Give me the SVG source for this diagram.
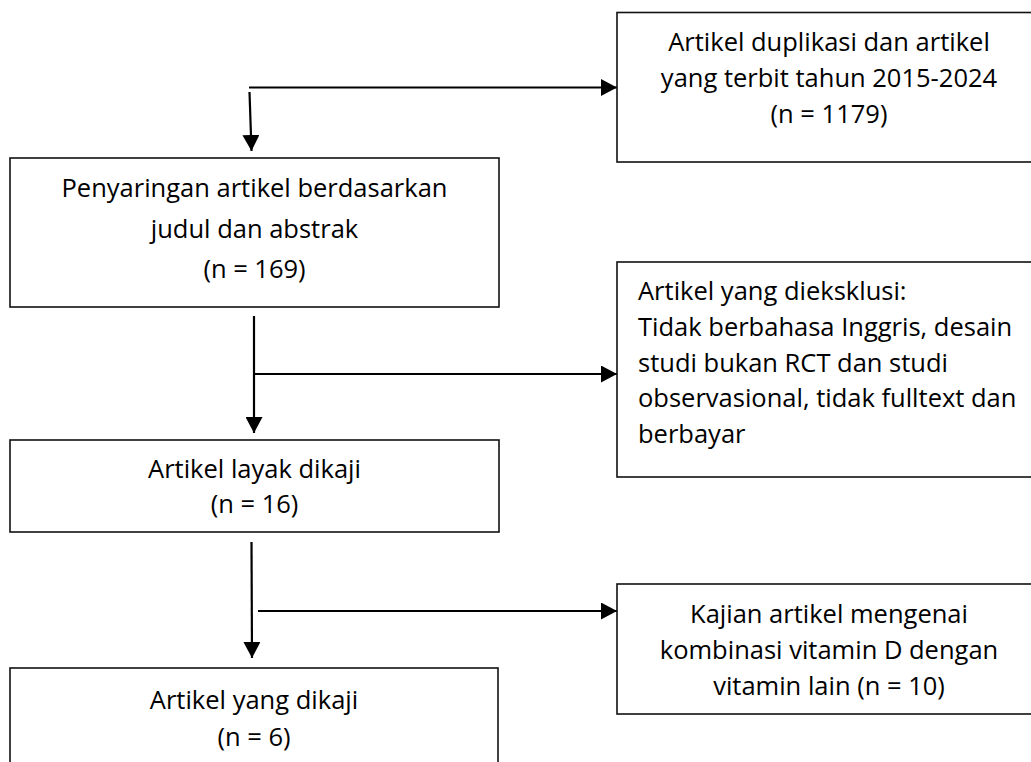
<svg xmlns="http://www.w3.org/2000/svg" width="1031" height="762" viewBox="0 0 1031 762">
<style>
  .box { fill: #fff; stroke: #111; stroke-width: 1.6; }
  .t { font-family: "Open Sans", "Noto Sans", sans-serif; font-size: 25.5px; fill: #000; }
  .c { text-anchor: middle; }
  .conn { stroke: #000; stroke-width: 2.2; fill: none; }
</style>
<defs>
  <marker id="arr" markerUnits="userSpaceOnUse" markerWidth="16" markerHeight="17" viewBox="0 0 16 17" refX="16" refY="8.5" orient="auto">
    <path d="M0,0 L16,8.5 L0,17 z" fill="#000"/>
  </marker>
</defs>
<rect width="1031" height="762" fill="#fff"/>
<g id="connectors">
  <line class="conn" x1="249" y1="87.5" x2="617" y2="87.5" marker-end="url(#arr)"/>
  <line class="conn" x1="249.5" y1="92" x2="251.5" y2="151" marker-end="url(#arr)"/>
  <line class="conn" x1="254" y1="316" x2="254" y2="433" marker-end="url(#arr)"/>
  <line class="conn" x1="253" y1="374" x2="617" y2="374" marker-end="url(#arr)"/>
  <line class="conn" x1="251.5" y1="542" x2="252" y2="658" marker-end="url(#arr)"/>
  <line class="conn" x1="258" y1="611" x2="617" y2="611" marker-end="url(#arr)"/>
</g>
<g id="node-duplikasi">
  <rect class="box" x="617" y="12.5" width="430" height="149.5"/>
  <text class="t c" x="829" y="51">Artikel duplikasi dan artikel</text>
  <text class="t c" x="829" y="87">yang terbit tahun 2015-2024</text>
  <text class="t c" x="829" y="123">(n = 1179)</text>
</g>
<g id="node-penyaringan">
  <rect class="box" x="10" y="158" width="489" height="149"/>
  <text class="t c" x="254.5" y="197">Penyaringan artikel berdasarkan</text>
  <text class="t c" x="254.5" y="238">judul dan abstrak</text>
  <text class="t c" x="254.5" y="278">(n = 169)</text>
</g>
<g id="node-eksklusi">
  <rect class="box" x="617" y="262" width="430" height="215"/>
  <text class="t" x="638" y="300">Artikel yang dieksklusi:</text>
  <text class="t" x="638" y="336">Tidak berbahasa Inggris, desain</text>
  <text class="t" x="638" y="372">studi bukan RCT dan studi</text>
  <text class="t" x="638" y="407">observasional, tidak fulltext dan</text>
  <text class="t" x="638" y="443">berbayar</text>
</g>
<g id="node-layak">
  <rect class="box" x="10" y="440" width="489" height="92"/>
  <text class="t c" x="254.5" y="478">Artikel layak dikaji</text>
  <text class="t c" x="254.5" y="513">(n = 16)</text>
</g>
<g id="node-kombinasi">
  <rect class="box" x="617" y="584" width="430" height="130"/>
  <text class="t c" x="829" y="623">Kajian artikel mengenai</text>
  <text class="t c" x="829" y="659">kombinasi vitamin D dengan</text>
  <text class="t c" x="829" y="695">vitamin lain (n = 10)</text>
</g>
<g id="node-dikaji">
  <rect class="box" x="10" y="668" width="488" height="120"/>
  <text class="t c" x="254" y="709">Artikel yang dikaji</text>
  <text class="t c" x="254" y="746">(n = 6)</text>
</g>
</svg>
